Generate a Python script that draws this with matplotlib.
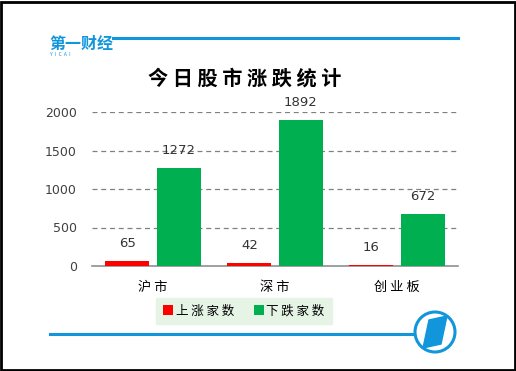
import matplotlib
matplotlib.use("Agg")
import matplotlib.pyplot as plt
import numpy as np
from matplotlib.patches import Rectangle, Circle, Polygon

plt.rcParams['font.family'] = ['Noto Sans CJK SC', 'DejaVu Sans']

categories = ['沪市', '深市', '创业板']
up_counts = [65, 42, 16]
down_counts = [1272, 1892, 672]
series_names = ['上涨家数', '下跌家数']
yticks = [0, 500, 1000, 1500, 2000]
title = '今日股市涨跌统计'

W, H = 516, 371
fig = plt.figure(figsize=(W/100, H/100), dpi=100)
fig.patch.set_facecolor('white')

def fx(px): return px / W
def fy(py): return 1 - py / H

blue = '#1296DB'
red = '#FF0000'
green = '#00B050'

# frame
fig.add_artist(Rectangle((fx(1), fy(370)), fx(514), (368)/H, transform=fig.transFigure,
                         fill=False, edgecolor='black', linewidth=2))

# top line and logo text
fig.add_artist(plt.Line2D([fx(113), fx(458)], [fy(38), fy(38)], color=blue, lw=2.2, transform=fig.transFigure))
fig.text(fx(49), fy(44), '第一财经', color=blue, fontsize=11.5, fontweight='bold', va='center', ha='left')
fig.text(fx(50), fy(55), 'Y  I  C  A  I', color=blue, fontsize=3.5, va='center', ha='left')

# bottom line and circle logo
fig.add_artist(plt.Line2D([fx(50), fx(414)], [fy(334), fy(334)], color=blue, lw=2.2, transform=fig.transFigure))
logo_ax = fig.add_axes([fx(410), fy(357), 50/W, 50/H])
logo_ax.set_xlim(-25, 25); logo_ax.set_ylim(-25, 25); logo_ax.set_aspect('equal'); logo_ax.axis('off')
logo_ax.add_patch(Circle((0, 0), 20, fill=False, edgecolor=blue, lw=2.2))
logo_ax.add_patch(Polygon([(-6, 12), (12, 16), (6, -12), (-12, -16)], closed=True, color=blue))

# title
fig.text(fx(245), fy(78), ' '.join(title), fontsize=14.5, fontweight='bold', ha='center', va='center', color='black')

# main axes
ax = fig.add_axes([fx(92), fy(266), (458-92)/W, (266-112)/H])
x = np.arange(len(categories))
bw = 0.36
off = 0.21
b1 = ax.bar(x - off, up_counts, bw, color=red, label=series_names[0], zorder=3)
b2 = ax.bar(x + off, down_counts, bw, color=green, label=series_names[1], zorder=3)
ax.set_xlim(-0.5, 2.5)
ax.set_ylim(0, 2000)
ax.set_yticks(yticks)
ax.set_yticklabels([str(t) for t in yticks], fontsize=9, color='#404040', family='DejaVu Sans')
ax.set_xticks(x)
ax.set_xticklabels([' '.join(c) for c in categories], fontsize=9.5, color='black')
ax.tick_params(axis='x', length=0, pad=11)
ax.tick_params(axis='y', length=0, pad=11)
ax.yaxis.grid(True, linestyle=(0, (4, 3)), color='#808080', linewidth=0.9, zorder=0)
for s in ['top', 'right', 'left']:
    ax.spines[s].set_visible(False)
ax.spines['bottom'].set_color('#909090')
ax.spines['bottom'].set_linewidth(1.2)
ax.set_facecolor('none')

for rects, vals in ((b1, up_counts), (b2, down_counts)):
    for r, v in zip(rects, vals):
        ax.annotate(str(v), (r.get_x() + r.get_width()/2, v), xytext=(0, 8), textcoords='offset points',
                    ha='center', va='bottom', fontsize=9.5, color='#333333', clip_on=False,
                    family='DejaVu Sans')

leg = fig.legend(handles=[b1, b2], labels=[' '.join(s) for s in series_names], loc='center',
                 bbox_to_anchor=(fx(244), fy(311)),
                 ncol=2, frameon=True, fontsize=9, handlelength=0.8, handleheight=0.8,
                 handletextpad=0.2, columnspacing=1.6, borderpad=0.55, borderaxespad=0, fancybox=False)
leg.get_frame().set_facecolor('#E6F4E6')
leg.get_frame().set_edgecolor('#E6F4E6')
leg.get_frame().set_alpha(1)

fig.savefig('out.png', dpi=100)
